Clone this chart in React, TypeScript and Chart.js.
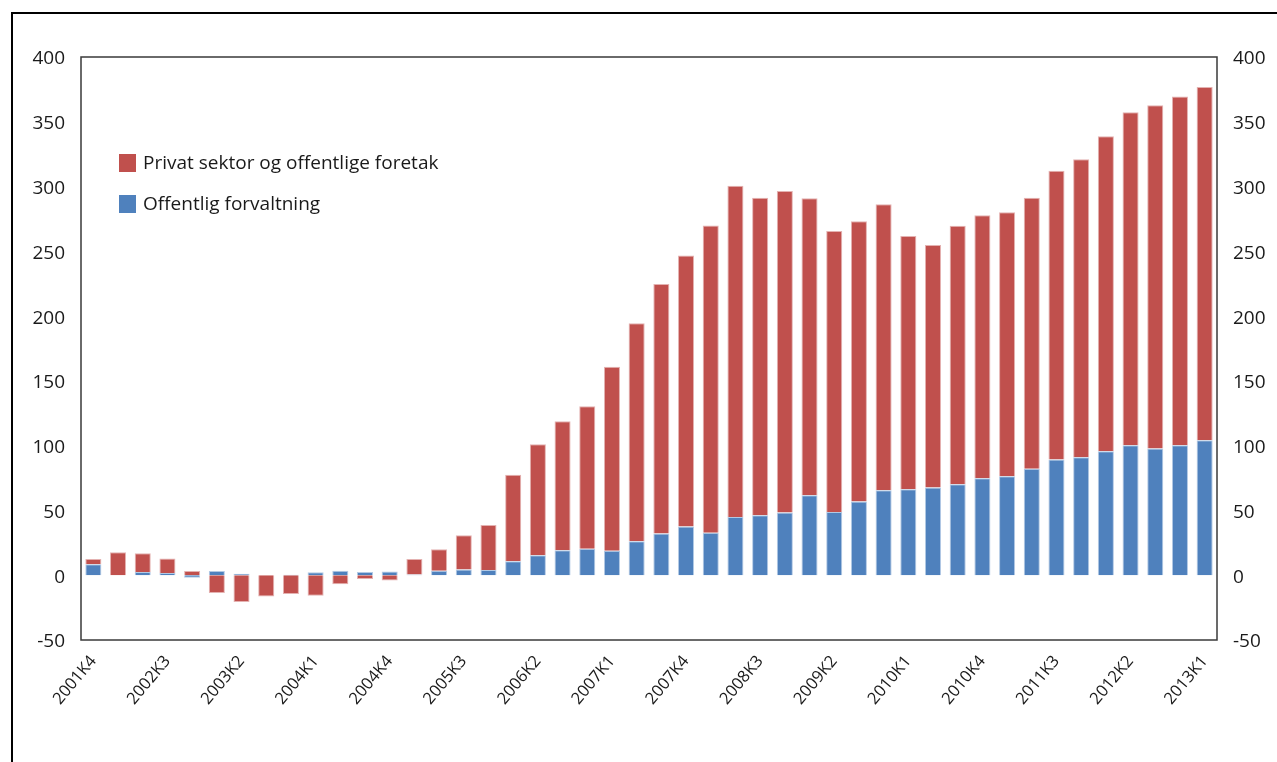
import React, { useEffect, useRef } from "react";
import { Chart, registerables } from "chart.js";

Chart.register(...registerables);

const categories = [
  "2001K4",
  "2002K1", "2002K2", "2002K3", "2002K4",
  "2003K1", "2003K2", "2003K3", "2003K4",
  "2004K1", "2004K2", "2004K3", "2004K4",
  "2005K1", "2005K2", "2005K3", "2005K4",
  "2006K1", "2006K2", "2006K3", "2006K4",
  "2007K1", "2007K2", "2007K3", "2007K4",
  "2008K1", "2008K2", "2008K3", "2008K4",
  "2009K1", "2009K2", "2009K3", "2009K4",
  "2010K1", "2010K2", "2010K3", "2010K4",
  "2011K1", "2011K2", "2011K3", "2011K4",
  "2012K1", "2012K2", "2012K3", "2012K4",
  "2013K1",
];

const offentligForvaltning = [
  8.4, 0, 2.5, 1.7, -2, 3.3, 1.2, 0, 0.4, 2.2, 3.5, 2.5, 2.8, 0.5, 3.5, 4.5,
  4, 10.7, 15.4, 19.2, 20.5, 18.9, 26.2, 32.3, 37.7, 32.8, 44.9, 46.2, 48.5,
  61.7, 48.8, 57, 65.5, 66.3, 67.8, 70.2, 74.8, 76.3, 82.2, 89.4, 91, 95.6,
  100.3, 97.9, 100.3, 104.1,
];

const privatSektor = [
  4.1, 17.7, 14.4, 11.3, 3.3, -13.7, -20.7, -16.5, -14.5, -15.8, -7, -2.9, -4,
  12, 16.5, 26.3, 34.7, 66.9, 85.6, 99.6, 109.9, 142, 168.2, 192.5, 209.1,
  237.2, 255.7, 245.2, 248, 229.2, 216.9, 216.2, 220.8, 195.5, 187.1, 199.6,
  203, 203.8, 209.2, 222.8, 230, 243.2, 257, 264.8, 269.3, 272.7,
];

const seriesNames = ["Privat sektor og offentlige foretak", "Offentlig forvaltning"];

const RED = "#C0504D";
const BLUE = "#4F81BD";
const TEXT = "#1a1a1a";
const FONT = "'Open Sans', 'Noto Sans', sans-serif";

export default function App() {
  const ref = useRef<HTMLCanvasElement | null>(null);

  useEffect(() => {
    if (!ref.current) return;

    const framePlugin = {
      id: "frameAndLegend",
      afterDraw(chart: any) {
        const { ctx, chartArea } = chart;
        ctx.save();
        ctx.strokeStyle = "#3a3a3a";
        ctx.lineWidth = 1.5;
        ctx.strokeRect(chartArea.left, chartArea.top, chartArea.right - chartArea.left, chartArea.bottom - chartArea.top);
        const items = [
          { name: seriesNames[0], color: RED, y: 154 },
          { name: seriesNames[1], color: BLUE, y: 195 },
        ];
        ctx.font = `19px ${FONT}`;
        ctx.textBaseline = "middle";
        ctx.textAlign = "left";
        for (const it of items) {
          ctx.fillStyle = it.color;
          ctx.fillRect(119, it.y, 17, 18);
          ctx.fillStyle = TEXT;
          ctx.fillText(it.name, 143, it.y + 10);
        }
        ctx.restore();
      },
    };

    const chart = new Chart(ref.current, {
      type: "bar",
      data: {
        labels: categories,
        datasets: [
          {
            label: seriesNames[1],
            data: offentligForvaltning,
            backgroundColor: BLUE,
            borderColor: "rgba(170,195,225,0.9)",
            borderWidth: 1,
            barPercentage: 0.65,
            categoryPercentage: 1,
          },
          {
            label: seriesNames[0],
            data: privatSektor,
            backgroundColor: RED,
            borderColor: "rgba(225,170,168,0.9)",
            borderWidth: 1,
            barPercentage: 0.65,
            categoryPercentage: 1,
          },
        ],
      },
      options: {
        responsive: false,
        animation: false,
        layout: { padding: { top: 57, left: 0, right: 0, bottom: 0 } },
        plugins: { legend: { display: false }, tooltip: { enabled: false } },
        scales: {
          x: {
            stacked: true,
            grid: { display: false, drawTicks: false },
            border: { display: false },
            ticks: {
              autoSkip: false,
              maxRotation: 50,
              minRotation: 50,
              padding: 12,
              color: TEXT,
              font: { family: FONT, size: 16.5 },
              callback: (_v: any, i: number) => (i % 3 === 0 ? categories[i] : ""),
            },
            afterFit: (s: any) => {
              s.height = 122;
            },
          },
          y: {
            stacked: true,
            position: "left",
            min: -50,
            max: 400,
            grid: { display: false, drawTicks: false },
            border: { display: false },
            ticks: {
              stepSize: 50,
              padding: 16,
              labelOffset: 2,
              color: TEXT,
              font: { family: FONT, size: 19 },
            },
            afterFit: (s: any) => {
              s.width = 81;
            },
          },
          y2: {
            position: "right",
            min: -50,
            max: 400,
            grid: { display: false, drawTicks: false },
            border: { display: false },
            ticks: {
              stepSize: 50,
              padding: 16,
              labelOffset: 2,
              color: TEXT,
              font: { family: FONT, size: 19 },
            },
            afterFit: (s: any) => {
              s.width = 60;
            },
          },
        },
      },
      plugins: [framePlugin],
    });

    return () => chart.destroy();
  }, []);

  return (
    <div style={{ position: "fixed", left: 0, top: 0, width: 1277, height: 762, overflow: "hidden", background: "#fff" }}>
      <div
        style={{
          position: "absolute",
          left: 11,
          top: 12,
          width: 1400,
          height: 900,
          border: "2px solid #000",
          boxSizing: "border-box",
        }}
      />
      <canvas ref={ref} width={1277} height={762} style={{ position: "absolute", left: 0, top: 0 }} />
    </div>
  );
}
